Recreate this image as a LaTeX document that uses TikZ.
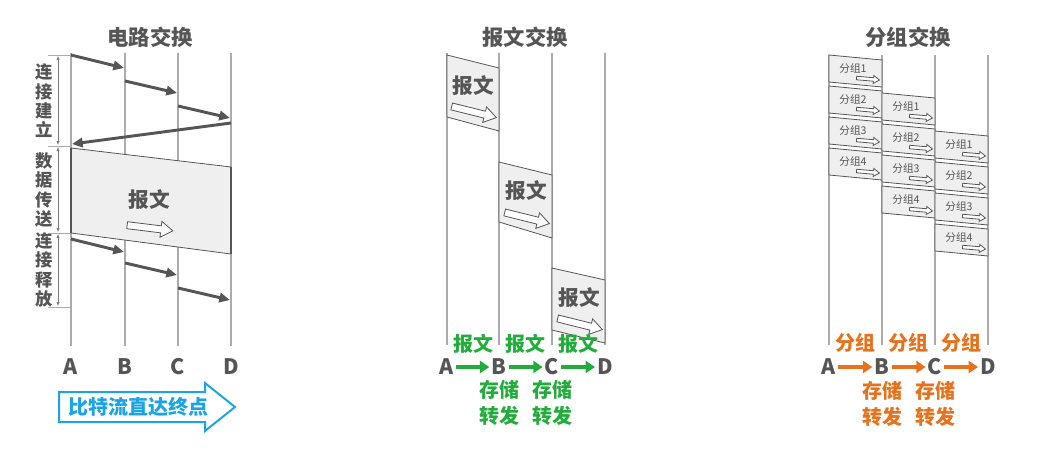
\documentclass[tikz,border=0pt]{standalone}
\usepackage{fontspec}
\setmainfont{Noto Sans CJK SC}
\usetikzlibrary{arrows.meta}
\definecolor{textgray}{HTML}{555555}
\definecolor{linegray}{HTML}{ABABAB}
\definecolor{blockfill}{HTML}{EFEFEF}
\definecolor{msggreen}{HTML}{22AC3C}
\definecolor{pktorange}{HTML}{E8711C}
\definecolor{bitblue}{HTML}{1AA3E6}

\tikzset{
  timeline/.style={linegray,line width=1.2pt},
  sigarrow/.style={textgray,line width=2.2pt,-{Triangle[length=8pt,width=7pt]}},
  dimline/.style={linegray!70!black,line width=0.5pt,{Latex[length=3pt,width=2.5pt]}-{Latex[length=3pt,width=2.5pt]}},
  markline/.style={linegray,line width=0.6pt},
  block/.style={fill=blockfill,draw=textgray,line width=0.6pt},
  title/.style={font=\bfseries\fontsize{16}{16}\selectfont,text=textgray},
  station/.style={font=\bfseries\fontsize{16}{16}\selectfont,text=textgray,inner sep=1.5pt},
  phase/.style={font=\bfseries\fontsize{13}{14.5}\selectfont,text=textgray,align=center},
  msgtext/.style={font=\bfseries\fontsize{15.5}{15.5}\selectfont,text=textgray},
  pkttext/.style={font=\fontsize{8}{8}\selectfont,text=textgray,inner sep=0pt},
  note/.style={font=\bfseries\fontsize{15}{19}\selectfont,align=center},
  hop/.style={line width=3pt,-{Triangle[length=7pt,width=9pt]}},
  hollowarrow/.pic={
    \draw[textgray,line width=0.6pt,fill=white]
      (-23,-3.5) -- (11,-3.5) -- (11,-8) -- (23,0) -- (11,8) -- (11,3.5) -- (-23,3.5) -- cycle;
  }
}

\begin{document}
\begin{tikzpicture}[x=0.75pt,y=-0.75pt,>=Latex]
  \useasboundingbox (0,0) rectangle (1039,453);

  % Titles
  \node[title] (ctitle) at (150,37) {电路交换};
  \node[title] (mtitle) at (525,37) {报文交换};
  \node[title] (ptitle) at (908,37) {分组交换};

  % ---------- Circuit switching ----------
  \foreach \x in {71,125,178,231}
    \draw[timeline] (\x,53) -- (\x,346);

  % data transfer block
  \fill[blockfill] (71,148) -- (231,167) -- (231,254) -- (71,233) -- cycle;
  \draw[textgray,line width=0.6pt] (71,148) -- (231,167);
  \draw[textgray,line width=0.6pt] (71,233) -- (231,254);
  \draw[textgray,line width=1.8pt] (71,148) -- (71,233);
  \draw[textgray,line width=1.2pt] (231,167) -- (231,254);
  \node[msgtext] (cmsg) at (149,200) {报文};
  \pic[rotate=-7] at (150,228) {hollowarrow};

  % setup and release signals
  \draw[sigarrow] (71,55) -- (124,68);
  \draw[sigarrow] (125,81) -- (177,93);
  \draw[sigarrow] (178,106) -- (230,118);
  \draw[sigarrow] (231,123) -- (72,144);
  \draw[sigarrow] (71,239) -- (124,252);
  \draw[sigarrow] (125,263) -- (177,275);
  \draw[sigarrow] (178,288) -- (230,300);

  % phase marks
  \foreach \y in {55,146,233,307}
    \draw[markline] (48,\y) -- (71,\y);
  \draw[dimline] (58,56) -- (58,145);
  \draw[dimline] (58,147) -- (58,232);
  \draw[dimline] (58,234) -- (58,306);
  \node[phase] (csetup) at (44,101) {连\\接\\建\\立};
  \node[phase] (cdata) at (44,190) {数\\据\\传\\送};
  \node[phase] (crelease) at (44,270) {连\\接\\释\\放};

  \node[station] (cA) at (71,367) {A};
  \node[station] (cB) at (125,367) {B};
  \node[station] (cC) at (178,367) {C};
  \node[station] (cD) at (231,367) {D};

  % bit stream arrow
  \draw[bitblue,line width=1.5pt,line join=miter]
    (59,392) -- (205,392) -- (205,383) -- (235,407) -- (205,431) -- (205,422) -- (59,422) -- cycle;
  \node[note,text=bitblue] (cbits) at (138,407) {比特流直达终点};

  % ---------- Message switching ----------
  \foreach \x in {447,499,552,605}
    \draw[timeline] (\x,53) -- (\x,345);

  \filldraw[block] (447,55) -- (499,68) -- (499,131) -- (447,117) -- cycle;
  \filldraw[block] (499,162) -- (552,175) -- (552,238) -- (499,222) -- cycle;
  \filldraw[block] (552,268) -- (605,280) -- (605,343) -- (552,330) -- cycle;
  \node[msgtext] (msg1) at (473,86) {报文};
  \node[msgtext] (msg2) at (526,191) {报文};
  \node[msgtext] (msg3) at (579,298) {报文};
  \pic[rotate=-14] at (474,112) {hollowarrow};
  \pic[rotate=-14] at (527,218) {hollowarrow};
  \pic[rotate=-14] at (580,324) {hollowarrow};

  \node[station] (mA) at (447,367) {A};
  \node[station] (mB) at (499,367) {B};
  \node[station] (mC) at (552,367) {C};
  \node[station] (mD) at (605,367) {D};
  \foreach \a/\b in {A/B,B/C,C/D}
    \draw[hop,msggreen] (m\a) -- (m\b);
  \node[note,text=msggreen] (mlab1) at (473,344) {报文};
  \node[note,text=msggreen] (mlab2) at (525,344) {报文};
  \node[note,text=msggreen] (mlab3) at (578,344) {报文};
  \node[note,text=msggreen] (mstoreB) at (499,403) {存储\\转发};
  \node[note,text=msggreen] (mstoreC) at (552,403) {存储\\转发};

  % ---------- Packet switching ----------
  \foreach \x in {829,882,935,988}
    \draw[timeline] (\x,55) -- (\x,345);

  \foreach \h/\xl in {0/829,1/882,2/935}{
    \foreach \k in {1,...,4}{
      \pgfmathsetmacro\yt{55+31*(\k-1)+38*\h}
      \filldraw[block] (\xl,\yt) -- ++(53,5) -- ++(0,27) -- ++(-53,-5) -- cycle;
      \node[pkttext] (p\h\k) at (\xl+24,\yt+13) {分组\k};
      \pic[scale=0.5,rotate=-5] at (\xl+39,\yt+24) {hollowarrow};
    }
  }

  \node[station] (pA) at (829,367) {A};
  \node[station] (pB) at (882,367) {B};
  \node[station] (pC) at (935,367) {C};
  \node[station] (pD) at (988,367) {D};
  \foreach \a/\b in {A/B,B/C,C/D}
    \draw[hop,pktorange] (p\a) -- (p\b);
  \node[note,text=pktorange] (plab1) at (855,343) {分组};
  \node[note,text=pktorange] (plab2) at (908,343) {分组};
  \node[note,text=pktorange] (plab3) at (961,343) {分组};
  \node[note,text=pktorange] (pstoreB) at (882,404) {存储\\转发};
  \node[note,text=pktorange] (pstoreC) at (935,404) {存储\\转发};
\end{tikzpicture}
\end{document}
